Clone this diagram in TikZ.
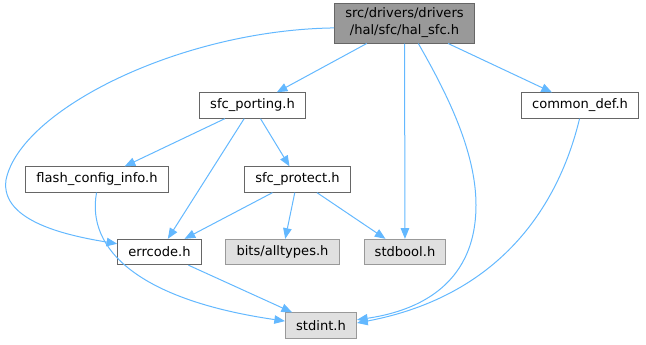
\documentclass[tikz,border=0pt]{standalone}
\usepackage{fontspec}
\setmainfont{DejaVu Sans}
\usepackage{xcolor}
\definecolor{edgeBlue}{HTML}{63B8FF}
\definecolor{boxDark}{HTML}{666666}
\definecolor{boxMid}{HTML}{999999}
\definecolor{boxLight}{HTML}{E0E0E0}
\usetikzlibrary{arrows.meta}

\begin{document}
\begin{tikzpicture}[x=0.75pt, y=-0.75pt,
    >={Triangle[length=8pt,width=6.4pt]},
    file/.style={draw=boxDark, fill=white, line width=0.75pt, inner xsep=8pt,
      minimum height=19pt, font=\fontsize{9.8pt}{12.75pt}\selectfont},
    sysfile/.style={file, draw=boxMid, fill=boxLight},
    mainfile/.style={file, fill=boxMid, align=center, minimum height=30pt, minimum width=104pt},
    dep/.style={->, edgeBlue, line width=0.75pt}]
  \useasboundingbox (0,0) rectangle (646,344);
  % ---- files ----
  \node[mainfile] (hal) at (404.5,23) {src/drivers/drivers\\/hal/sfc/hal\_sfc.h};
  \node[file] (porting) at (252.5,105.5) {sfc\_porting.h};
  \node[file] (common) at (580,105.5) {common\_def.h};
  \node[file] (flash) at (97,179.5) {flash\_config\_info.h};
  \node[file] (protect) at (297.5,179.5) {sfc\_protect.h};
  \node[file] (errcode) at (159.5,252) {errcode.h};
  \node[sysfile] (alltypes) at (282.5,252) {bits/alltypes.h};
  \node[sysfile] (stdbool) at (405,252) {stdbool.h};
  \node[sysfile] (stdint) at (321,325.5) {stdint.h};
  % ---- straight includes ----
  \draw[dep] (hal) -- (porting);
  \draw[dep] (hal) -- (common);
  \draw[dep] (hal) -- (stdbool);
  \draw[dep] (porting) -- (flash);
  \draw[dep] (porting) -- (errcode);
  \draw[dep] (porting) -- (protect);
  \draw[dep] (protect) -- (errcode);
  \draw[dep] (protect) -- (alltypes);
  \draw[dep] (protect) -- (stdbool);
  \draw[dep] (errcode) -- (stdint);
  % ---- curved includes ----
  \draw[dep] (hal.184) .. controls (180,30) and (20,110) .. (6,180)
    .. controls (0,222) and (70,236) .. (errcode.169);
  \draw[dep] (hal.-56) .. controls (445,90) and (476,150) .. (476,205)
    .. controls (476,290) and (410,312) .. (stdint.9);
  \draw[dep] (common.-92) .. controls (560,200) and (505,295) .. (stdint.4);
  \draw[dep] (flash.-92) .. controls (86,250) and (140,300) .. (stdint.173);
\end{tikzpicture}
\end{document}
